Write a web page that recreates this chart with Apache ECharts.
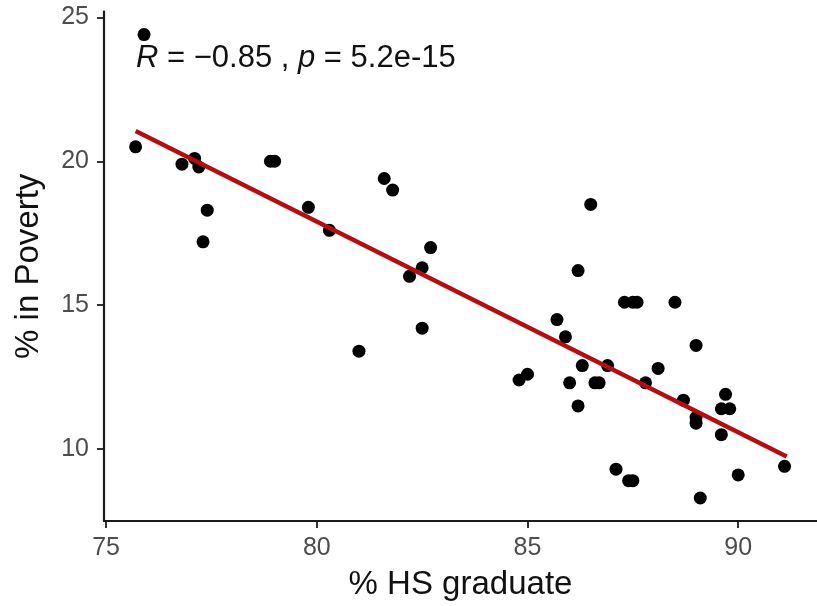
<!DOCTYPE html>
<html>
<head>
<meta charset="utf-8">
<script src="https://cdn.jsdelivr.net/npm/echarts@6/dist/echarts.min.js"></script>
<style>
  html, body { margin: 0; padding: 0; background: #fff; }
  #chart { width: 817px; height: 606px; }
</style>
</head>
<body>
<div id="chart"></div>
<script>
// ---- data ----
const hsGrad = [
  75.7, 75.9, 76.8, 77.1, 77.2, 77.4, 77.3, 78.9, 79.0, 79.8,
  80.3, 81.6, 81.8, 81.0, 82.2, 82.5, 82.7, 82.5, 84.8, 85.0,
  85.7, 85.9, 86.0, 86.2, 86.2, 86.5, 86.3, 86.6, 86.7, 86.9,
  87.1, 87.3, 87.5, 87.6, 87.4, 87.5, 87.8, 88.1, 88.5, 88.7,
  89.0, 89.0, 89.0, 89.1, 89.7, 89.6, 89.8, 89.6, 90.0, 91.1
];
const poverty = [
  20.5, 24.4, 19.9, 20.1, 19.8, 18.3, 17.2, 20.0, 20.0, 18.4,
  17.6, 19.4, 19.0, 13.4, 16.0, 16.3, 17.0, 14.2, 12.4, 12.6,
  14.5, 13.9, 12.3, 11.5, 16.2, 18.5, 12.9, 12.3, 12.3, 12.9,
  9.3, 15.1, 15.1, 15.1, 8.9, 8.9, 12.3, 12.8, 15.1, 11.7,
  13.6, 11.1, 10.9, 8.3, 11.9, 11.4, 11.4, 10.5, 9.1, 9.4
];
// regression line end points
const fitX = [75.7, 91.15];
const fitY = [21.05, 9.74];
const xTicks = [75, 80, 85, 90];
const yTicks = [10, 15, 20, 25];
const xTitle = '% HS graduate';
const yTitle = '% in Poverty';
const statR = '−0.85';
const statP = '5.2e-15';

const points = hsGrad.map((x, i) => [x, poverty[i]]);
const fitLine = fitX.map((x, i) => [x, fitY[i]]);

const FONT = '"Liberation Sans", Arial, Helvetica, sans-serif';
const axisColor = '#1a1a1a';

const chart = echarts.init(document.getElementById('chart'), null, { renderer: 'canvas' });
chart.setOption({
  animation: false,
  backgroundColor: '#ffffff',
  grid: { left: 104, right: 0, top: 11.6, bottom: 85 },
  xAxis: {
    type: 'value',
    min: 74.95, max: 91.87,
    name: xTitle,
    nameLocation: 'middle',
    nameGap: 47,
    nameTextStyle: { fontFamily: FONT, fontSize: 33, color: '#111' },
    splitLine: { show: false },
    axisLine: { show: true, onZero: false, lineStyle: { color: axisColor, width: 2.2 } },
    axisTick: { show: true, length: 7, lineStyle: { color: axisColor, width: 1.8 }, customValues: xTicks },
    axisLabel: { fontFamily: FONT, fontSize: 25, color: '#4d4d4d', margin: 15, customValues: xTicks }
  },
  yAxis: {
    type: 'value',
    min: 7.5, max: 25.2,
    name: yTitle,
    nameLocation: 'middle',
    nameGap: 59,
    nameTextStyle: { fontFamily: FONT, fontSize: 33, color: '#111' },
    splitLine: { show: false },
    axisLine: { show: true, onZero: false, lineStyle: { color: axisColor, width: 2.2 } },
    axisTick: { show: true, length: 7, lineStyle: { color: axisColor, width: 1.8 }, customValues: yTicks },
    axisLabel: { fontFamily: FONT, fontSize: 25, color: '#4d4d4d', margin: 15, customValues: yTicks }
  },
  graphic: [{
    type: 'text',
    left: 136,
    top: 43,
    style: {
      text: '{i|R} = ' + statR + ' , {i|p} = ' + statP,
      fontFamily: FONT,
      fontSize: 31,
      fill: '#111',
      rich: {
        i: { fontFamily: FONT, fontSize: 31, fontStyle: 'italic', fill: '#111' }
      }
    },
    z: 100
  }],
  series: [
    {
      type: 'scatter',
      data: points,
      symbol: 'circle',
      symbolSize: 13,
      itemStyle: { color: '#000', opacity: 1 },
      z: 2
    },
    {
      type: 'line',
      data: fitLine,
      symbol: 'none',
      lineStyle: { color: '#b30f12', width: 4.5 },
      z: 3
    }
  ]
});
</script>
</body>
</html>
